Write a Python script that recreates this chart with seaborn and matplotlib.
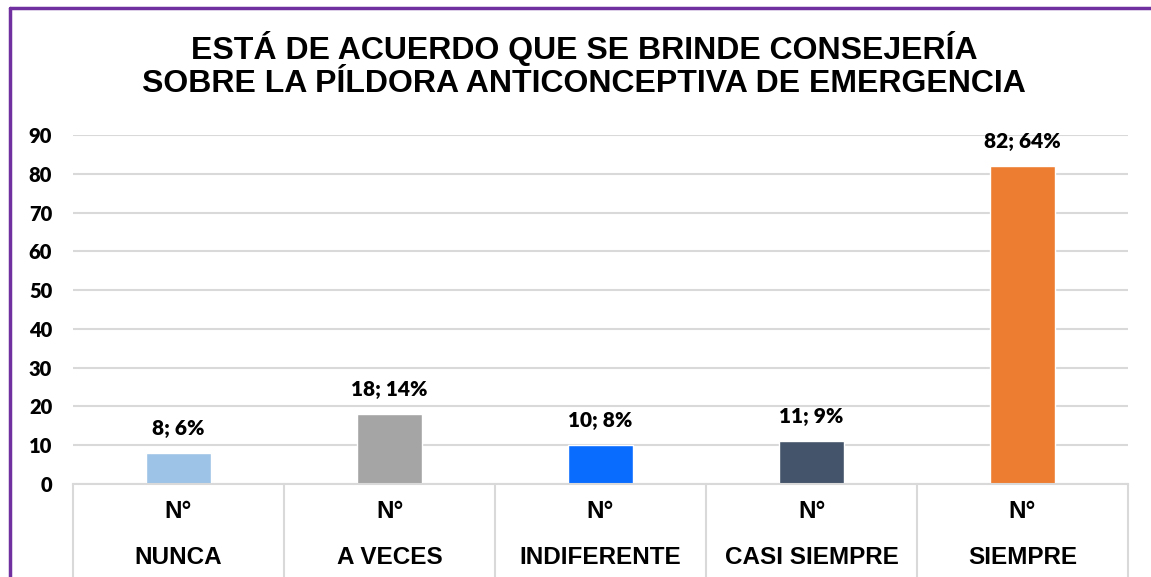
import matplotlib
matplotlib.use("Agg")
import matplotlib.pyplot as plt
import seaborn as sns
import pandas as pd
from matplotlib.lines import Line2D
import matplotlib.transforms as mtransforms

categories = ["NUNCA", "A VECES", "INDIFERENTE", "CASI SIEMPRE", "SIEMPRE"]
counts = [8, 18, 10, 11, 82]
percents = [6, 14, 8, 9, 64]
sub_label = "N°"
colors = ["#9DC3E6", "#A5A5A5", "#0A6CFF", "#44546A", "#ED7D31"]
title = "ESTÁ DE ACUERDO QUE SE BRINDE CONSEJERÍA\nSOBRE LA PÍLDORA ANTICONCEPTIVA DE EMERGENCIA"
yticks = list(range(0, 100, 10))

sns.set_style("white")
plt.rcParams['font.family'] = ['Lato', 'DejaVu Sans']
plt.rcParams['text.color'] = 'black'
plt.rcParams['ytick.color'] = 'black'
plt.rcParams['xtick.color'] = 'black'

df = pd.DataFrame({"cat": categories, "n": counts})

fig = plt.figure(figsize=(11.51, 5.77), dpi=100)
ax = fig.add_axes([73/1151, 1-484/577, (1128-73)/1151, (484-135)/577])

sns.barplot(data=df, x="cat", y="n", hue="cat", palette=colors, order=categories,
            hue_order=categories, width=0.31, legend=False, ax=ax, saturation=1)

ax.set_ylim(0, 90)
ax.set_xlim(-0.5, len(categories)-0.5)
ax.set_yticks(yticks)
ax.set_yticklabels([str(t) for t in yticks], fontsize=14.5, fontweight='heavy', color='black')
ax.tick_params(axis='y', length=0, pad=15)
ax.set_xticks([])
ax.set_xlabel("")
ax.set_ylabel("")
ax.grid(axis='y', color='#D9D9D9', linewidth=1.5)
ax.set_axisbelow(True)
for s in ["top", "right", "left"]:
    ax.spines[s].set_visible(False)
ax.spines["bottom"].set_color("#D9D9D9")
ax.spines["bottom"].set_linewidth(1.5)

# data labels
for i, (c, p) in enumerate(zip(counts, percents)):
    ax.annotate(f"{c}; {p}%", (i, c), xytext=(0, 11), textcoords="offset points",
                ha='center', va='bottom', fontsize=15, fontweight='heavy', color='black')

# multi-level category table
trans = mtransforms.blended_transform_factory(ax.transData, ax.transAxes)
for b in range(len(categories)+1):
    ax.add_line(Line2D([b-0.5, b-0.5], [0, -0.27], transform=trans, color='#D9D9D9',
                       linewidth=1.5, clip_on=False))
for i, cat in enumerate(categories):
    ax.text(i, -0.08, sub_label, transform=trans, ha='center', va='center', color='black',
            fontsize=17.5, fontweight='bold', family=['Liberation Sans', 'DejaVu Sans'])
    ax.text(i, -0.21, cat, transform=trans, ha='center', va='center', color='black',
            fontsize=17.5, fontweight='bold', family=['Liberation Sans', 'DejaVu Sans'])

fig.text(584/1151, 1-65/577, title, ha='center', va='center', fontsize=23, fontweight='bold',
         color='black', family=['Liberation Sans', 'DejaVu Sans'], linespacing=1.15)

# purple frame
fig.add_artist(Line2D([10/1151, 10/1151], [0, 1-8/577], transform=fig.transFigure,
                      color='#7030A0', linewidth=2.5))
fig.add_artist(Line2D([10/1151, 1], [1-8/577, 1-8/577], transform=fig.transFigure,
                      color='#7030A0', linewidth=2.5))

fig.savefig("out.png", dpi=100)
